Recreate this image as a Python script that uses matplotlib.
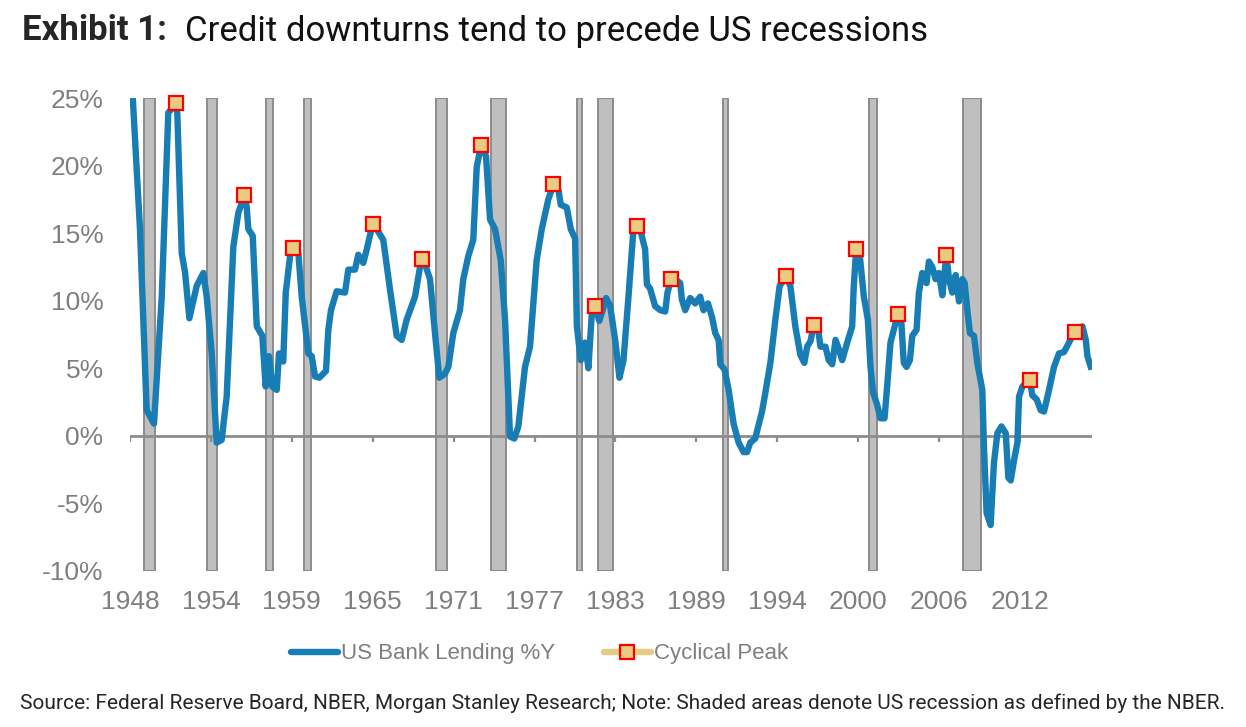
import numpy as np
import matplotlib
matplotlib.use("Agg")
import matplotlib.pyplot as plt
from matplotlib.lines import Line2D

# ---------------- data ----------------
years = [1947.94, 1948.54, 1949.02, 1949.55, 1950.11, 1950.58, 1951.12, 1951.23, 1951.55, 1951.79,
         1952.10, 1952.63, 1953.11, 1953.35, 1953.71, 1954.07, 1954.43, 1954.79, 1955.27, 1955.63,
         1956.06, 1956.23, 1956.35, 1956.67, 1956.96, 1957.36, 1957.60, 1957.84, 1958.08, 1958.40,
         1958.56, 1958.87, 1959.05, 1959.36, 1959.59, 1959.96, 1960.20, 1960.51, 1960.68, 1960.92,
         1961.16, 1961.47, 1961.95, 1962.12, 1962.31, 1962.72, 1963.32, 1963.56, 1964.04, 1964.28,
         1964.64, 1964.89, 1965.25, 1965.36, 1965.61, 1966.08, 1966.57, 1967.05, 1967.41, 1967.77,
         1968.37, 1968.73, 1968.85, 1969.16, 1969.45, 1969.81, 1970.12, 1970.53, 1970.77, 1971.13,
         1971.61, 1971.85, 1972.21, 1972.57, 1972.82, 1973.13, 1973.49, 1973.78, 1974.14, 1974.55,
         1974.86, 1975.22, 1975.53, 1975.82, 1976.30, 1976.66, 1977.14, 1977.51, 1977.98, 1978.35,
         1978.71, 1978.88, 1979.31, 1979.60, 1979.91, 1980.04, 1980.32, 1980.63, 1980.87, 1981.12,
         1981.36, 1981.65, 1981.84, 1982.15, 1982.44, 1982.80, 1983.11, 1983.40, 1983.76, 1984.12,
         1984.36, 1984.60, 1984.96, 1985.09, 1985.32, 1985.68, 1986.05, 1986.41, 1986.57, 1986.84,
         1987.13, 1987.49, 1987.61, 1987.85, 1988.21, 1988.57, 1988.93, 1989.17, 1989.49, 1989.78,
         1990.02, 1990.26, 1990.38, 1990.69, 1990.98, 1991.34, 1991.70, 1992.06, 1992.31, 1992.54,
         1992.90, 1993.14, 1993.39, 1993.63, 1993.99, 1994.35, 1994.66, 1995.14, 1995.43, 1995.79,
         1996.15, 1996.44, 1996.64, 1996.88, 1997.12, 1997.41, 1997.60, 1997.96, 1998.20, 1998.45,
         1998.69, 1998.93, 1999.17, 1999.53, 1999.89, 2000.00, 2000.18, 2000.44, 2000.73, 2001.02,
         2001.21, 2001.40, 2001.69, 2001.93, 2002.22, 2002.41, 2002.65, 2002.89, 2003.18, 2003.42,
         2003.61, 2003.81, 2004.05, 2004.22, 2004.53, 2004.70, 2004.94, 2005.25, 2005.42, 2005.66,
         2005.90, 2006.14, 2006.39, 2006.68, 2006.87, 2007.11, 2007.35, 2007.59, 2007.83, 2008.00,
         2008.19, 2008.38, 2008.67, 2008.91, 2009.27, 2009.39, 2009.58, 2009.87, 2010.11, 2010.36,
         2010.65, 2010.96, 2011.15, 2011.32, 2011.56, 2011.80, 2011.92, 2012.16, 2012.69, 2012.88,
         2013.19, 2013.48, 2013.72, 2014.08, 2014.44, 2014.80, 2015.16, 2015.52, 2015.93, 2016.49,
         2016.73, 2016.85, 2017.15]
lending = [26.5, 15.3, 1.9, 0.9, 10.3, 23.9, 24.6, 23.9, 13.5, 12.1,
           8.7, 11.1, 12.05, 10.3, 6.1, -0.5, -0.3, 2.9, 14.0, 16.5,
           17.8, 17.0, 15.3, 14.8, 8.1, 7.4, 3.65, 5.9, 3.65, 3.4,
           6.1, 5.5, 10.6, 13.3, 13.9, 13.5, 10.3, 7.6, 6.1, 5.9,
           4.4, 4.3, 4.8, 7.85, 9.3, 10.7, 10.6, 12.3, 12.3, 13.4,
           12.8, 13.8, 15.4, 15.7, 15.3, 14.5, 10.8, 7.4, 7.1, 8.6,
           10.3, 12.5, 13.1, 12.5, 11.6, 7.6, 4.3, 4.6, 5.1, 7.6,
           9.3, 11.6, 13.3, 14.5, 19.9, 21.5, 20.7, 16.0, 15.3, 13.0,
           8.6, -0.05, -0.2, 0.7, 5.1, 6.6, 13.0, 15.3, 17.5, 18.6,
           18.2, 17.1, 16.9, 15.3, 14.6, 8.1, 5.6, 6.9, 5.0, 9.1,
           9.6, 8.5, 9.1, 10.2, 9.6, 7.1, 4.3, 5.6, 10.3, 15.3,
           15.5, 15.3, 13.8, 11.2, 10.9, 9.6, 9.3, 9.2, 10.6, 11.6,
           11.6, 11.3, 10.1, 9.3, 10.2, 9.8, 10.3, 9.3, 9.8, 8.8,
           7.6, 7.1, 5.3, 4.9, 3.4, 0.9, -0.5, -1.2, -1.2, -0.5,
           -0.2, 0.8, 1.8, 3.2, 5.4, 8.6, 11.1, 11.8, 11.1, 8.1,
           6.0, 5.4, 6.6, 7.0, 8.2, 8.1, 6.6, 6.6, 5.6, 5.3,
           7.1, 6.4, 5.6, 6.9, 8.1, 11.0, 13.85, 13.3, 10.3, 8.6,
           5.1, 3.2, 2.3, 1.3, 1.3, 3.65, 6.9, 7.85, 9.0, 8.6,
           5.4, 5.1, 5.6, 7.4, 7.85, 10.6, 12.05, 11.3, 12.9, 12.5,
           11.6, 12.05, 10.4, 13.4, 11.6, 10.6, 11.9, 9.95, 11.6, 11.3,
           9.3, 7.6, 7.4, 5.4, 3.4, -0.8, -5.7, -6.6, -2.0, 0.2,
           0.7, 0.2, -3.1, -3.3, -1.8, -0.5, 2.9, 3.65, 4.15, 3.0,
           2.7, 1.9, 1.8, 3.4, 5.1, 6.1, 6.2, 6.9, 7.7, 8.1,
           7.1, 5.9, 4.9]

peak_years = [1951.12, 1956.06, 1959.59, 1965.36, 1968.85, 1973.13, 1978.35, 1981.36, 1984.36,
              1986.84, 1995.14, 1997.12, 2000.18, 2003.18, 2006.68, 2012.69, 2015.93]
peak_values = [24.6, 17.8, 13.9, 15.7, 13.1, 21.5, 18.6, 9.6, 15.5,
               11.6, 11.8, 8.2, 13.85, 9.0, 13.4, 4.15, 7.7]

recession_start = [1948.83, 1953.35, 1957.60, 1960.37, 1969.86, 1973.85, 1980.07, 1981.58,
                   1990.60, 2001.12, 2007.90]
recession_end = [1949.62, 1954.09, 1958.11, 1960.89, 1970.65, 1974.91, 1980.43, 1982.67,
                 1990.96, 2001.70, 2009.18]

x_tick_labels = ["1948", "1954", "1959", "1965", "1971", "1977", "1983", "1989",
                 "1994", "2000", "2006", "2012"]
y_ticks = [-10, -5, 0, 5, 10, 15, 20, 25]

# ---------------- style ----------------
BLUE = "#187DB4"
TAN = "#E8CA83"
RED = "#FF0000"
GREY_TXT = "#7F7F7F"
AXIS_GREY = "#8C8C8C"
SHADE = "#BFBFBF"

W, H = 1246, 727
fig = plt.figure(figsize=(W / 100, H / 100), dpi=100)
fig.patch.set_facecolor("white")

ax_l, ax_r, ax_t, ax_b = 130, 1092, 98, 571
ax = fig.add_axes([ax_l / W, 1 - ax_b / H, (ax_r - ax_l) / W, (ax_b - ax_t) / H])

x0, x1 = 1947.82, 2017.18
ax.set_xlim(x0, x1)
ax.set_ylim(-10, 25)

for s, e in zip(recession_start, recession_end):
    ax.axvspan(s, e, facecolor=SHADE, edgecolor=AXIS_GREY, lw=1.4, zorder=1)

ax.axhline(0, color=AXIS_GREY, lw=2.0, zorder=2)

tick_step = 70 / 12
xt = x0 + tick_step * np.arange(len(x_tick_labels))
ax.vlines(xt, -0.45, 0, color=AXIS_GREY, lw=1.6, zorder=2)

ax.plot(years, lending, color=BLUE, lw=4.6, solid_joinstyle="round",
        solid_capstyle="butt", zorder=3)
ax.plot(peak_years, peak_values, linestyle="none", marker="s", markersize=10,
        markerfacecolor=TAN, markeredgecolor=RED, markeredgewidth=1.6, zorder=4,
        clip_on=False)

ax.set_xticks(xt)
ax.set_xticklabels(x_tick_labels)
ax.set_yticks(y_ticks)
ax.set_yticklabels([f"{v}%" for v in y_ticks])
ax.tick_params(axis="both", length=0, labelsize=19, labelcolor=GREY_TXT)
ax.tick_params(axis="x", pad=14)
ax.tick_params(axis="y", pad=19)
for lab in ax.get_xticklabels() + ax.get_yticklabels():
    lab.set_fontfamily("Liberation Sans")
for sp in ax.spines.values():
    sp.set_visible(False)

# legend
h1 = Line2D([], [], color=BLUE, lw=4.6, solid_capstyle="round")
h2 = Line2D([], [], color=TAN, lw=4.6, solid_capstyle="round", marker="s", markersize=10,
            markerfacecolor=TAN, markeredgecolor=RED, markeredgewidth=1.6)
leg = fig.legend([h1, h2], ["US Bank Lending %Y", "Cyclical Peak"],
                 loc="center left", bbox_to_anchor=(291 / W, 1 - 654 / H),
                 ncol=2, frameon=False, borderpad=0, borderaxespad=0,
                 handlelength=2.1, handletextpad=0.15, columnspacing=2.2,
                 prop={"family": "Liberation Sans", "size": 16})
for t in leg.get_texts():
    t.set_color(GREY_TXT)

# title
fig.text(22 / W, 1 - 31 / H, "Exhibit 1:", fontsize=25, fontweight="bold",
         family="Roboto", color="#262626", va="center", ha="left")
fig.text(185 / W, 1 - 31 / H, "Credit downturns tend to precede US recessions",
         fontsize=25, family="Roboto", color="#111111", va="center", ha="left")

# source
fig.text(20 / W, 1 - 703 / H,
         "Source: Federal Reserve Board, NBER, Morgan Stanley Research; Note: Shaded areas denote US recession as defined by the NBER.",
         fontsize=15, family="Roboto", color="#262626", va="center", ha="left")

fig.savefig("out.png", dpi=100, facecolor="white")
